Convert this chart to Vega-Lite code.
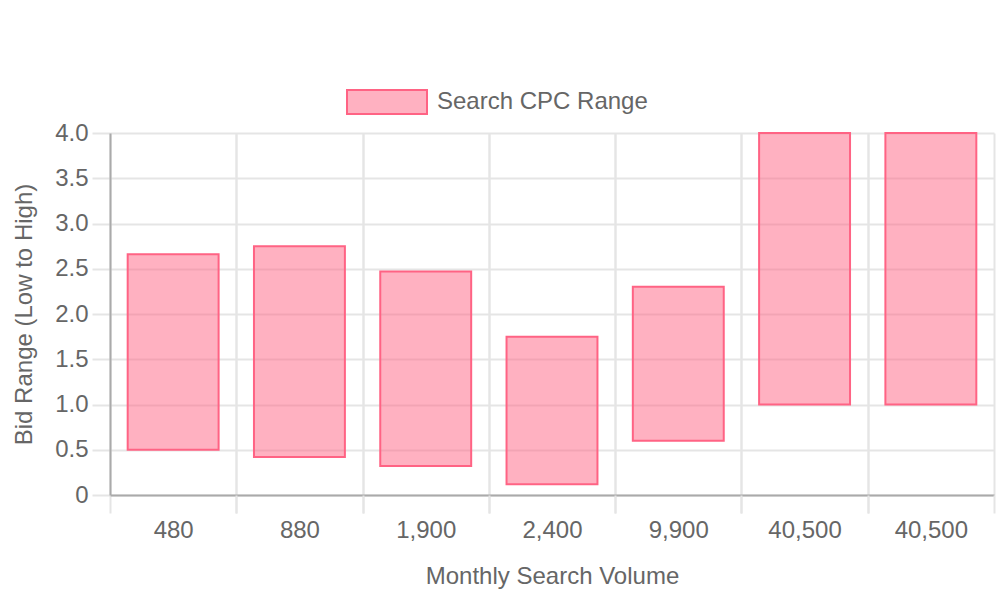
{
  "$schema": "https://vega.github.io/schema/vega-lite/v6.json",
  "width": 884,
  "height": 362,
  "autosize": {"type": "none"},
  "padding": {"left": 110, "top": 133, "right": 6, "bottom": 105},
  "background": "white",
  "config": {
    "view": {"stroke": null},
    "font": "Liberation Sans",
    "axis": {
      "labelFont": "Liberation Sans",
      "labelFontSize": 24,
      "labelColor": "#666666",
      "titleFont": "Liberation Sans",
      "titleFontSize": 24,
      "titleFontWeight": "normal",
      "titleColor": "#666666",
      "gridColor": "#e5e5e5",
      "gridWidth": 2,
      "tickColor": "#e5e5e5",
      "tickWidth": 2,
      "tickSize": 18,
      "domainColor": "#aaaaaa",
      "domainWidth": 2
    }
  },
  "data": {
    "values": [
      {"volume": "480", "low": 0.5, "high": 2.66},
      {"volume": "880", "low": 0.42, "high": 2.75},
      {"volume": "1,900", "low": 0.32, "high": 2.47},
      {"volume": "2,400", "low": 0.12, "high": 1.75},
      {"volume": "9,900", "low": 0.6, "high": 2.3},
      {"volume": "40,500", "low": 1.0, "high": 4.0},
      {"volume": "40,500 ", "low": 1.0, "high": 4.0}
    ]
  },
  "layer": [
    {
      "mark": {"type": "bar", "fill": "#FF6384", "fillOpacity": 0.5, "stroke": "#FF6384", "strokeWidth": 2},
      "encoding": {
        "x": {
          "field": "volume",
          "type": "ordinal",
          "sort": null,
          "scale": {"paddingInner": 0.28, "paddingOuter": 0.14},
          "axis": {
            "title": "Monthly Search Volume",
            "titlePadding": 22,
            "labelAngle": 0,
            "labelExpr": "trim(datum.label)",
            "labelPadding": 5,
            "grid": true,
            "tickOffset": -63.14,
            "labelOffset": 63.14
          }
        },
        "y": {
          "field": "low",
          "type": "quantitative",
          "scale": {"domain": [0, 4], "nice": false},
          "axis": {
            "title": "Bid Range (Low to High)",
            "titlePadding": 18,
            "values": [0, 0.5, 1, 1.5, 2, 2.5, 3, 3.5, 4],
            "labelExpr": "datum.value == 0 ? '0' : format(datum.value, '.1f')",
            "labelPadding": 4,
            "grid": true
          }
        },
        "y2": {"field": "high"}
      }
    },
    {
      "mark": {"type": "bar", "opacity": 0, "stroke": "#FF6384", "strokeWidth": 2},
      "encoding": {
        "x": {
          "field": "volume",
          "type": "ordinal",
          "sort": null,
          "scale": {"paddingInner": 0.28, "paddingOuter": 0.14},
          "axis": {
            "orient": "bottom",
            "title": null,
            "labels": false,
            "domain": false,
            "grid": true,
            "tickOffset": 63.14
          }
        },
        "y": {"field": "low", "type": "quantitative"},
        "y2": {"field": "high"},
        "fill": {
          "datum": "Search CPC Range",
          "type": "nominal",
          "scale": {"range": ["#FFB1C1"]},
          "legend": {
            "title": null,
            "orient": "none",
            "legendX": 236,
            "legendY": -72,
            "padding": 0,
            "symbolType": "M-1,-0.3H1V0.3H-1Z",
            "symbolSize": 6400,
            "symbolOpacity": 1,
            "symbolStrokeColor": "#FF6384",
            "symbolStrokeWidth": 2,
            "labelFont": "Liberation Sans",
            "labelFontSize": 24,
            "labelColor": "#666666",
            "labelOffset": 9,
            "labelLimit": 0
          }
        }
      }
    }
  ],
  "resolve": {"axis": {"x": "independent"}}
}
